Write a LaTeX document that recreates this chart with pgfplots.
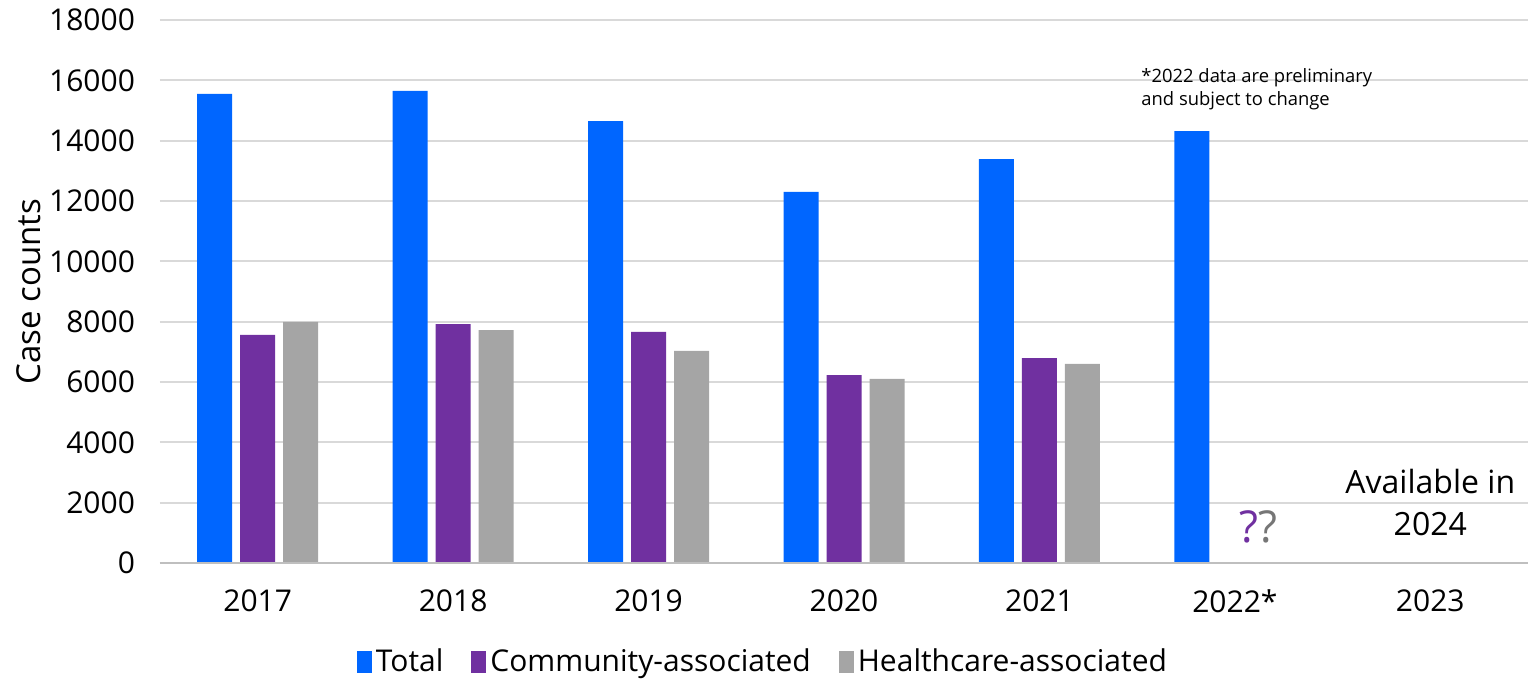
\documentclass[border=0pt]{standalone}
\usepackage{fontspec}
\setmainfont{Open Sans}
\usepackage{pgfplots}
\pgfplotsset{compat=1.18}
\definecolor{cTotal}{HTML}{0066FF}
\definecolor{cComm}{HTML}{7030A0}
\definecolor{cHC}{HTML}{A5A5A5}
\definecolor{cGrid}{HTML}{D9D9D9}
\definecolor{cAxis}{HTML}{BFBFBF}
\definecolor{cQ}{HTML}{767676}
\begin{document}
\begin{tikzpicture}
\useasboundingbox (0,0) rectangle (764pt,340pt);
\begin{axis}[
  at={(80pt,58.5pt)}, anchor=south west,
  scale only axis, width=684pt, height=271.5pt,
  ybar=4pt, bar width=17.5pt,
  xmin=-0.5, xmax=6.5, ymin=0, ymax=18000,
  xtick={0,1,2,3,4,5,6},
  xticklabels={2017,2018,2019,2020,2021,2022*,2023},
  ytick={0,2000,...,18000},
  /pgf/number format/assume math mode=true,
  /pgf/number format/1000 sep={},
  scaled y ticks=false,
  tick style={draw=none},
  major tick length=0pt,
  ymajorgrids, grid style={cGrid, line width=0.9pt},
  axis line style={draw=none},
  axis x line*=bottom,
  ticklabel style={font=\fontsize{15}{18}\selectfont},
  yticklabel style={xshift=-9pt},
  xticklabel style={yshift=-10pt},
  ylabel={Case counts},
  ylabel style={font=\fontsize{16.5}{19}\selectfont, at={(axis description cs:-0.096,0.5)}, anchor=center},
  legend style={draw=none, at={(axis description cs:0.4415,-0.182)}, anchor=center,
    legend columns=3, font=\fontsize{15}{18}\selectfont,
    /tikz/every even column/.append style={column sep=12pt}},
  legend image code/.code={\fill[#1] (0pt,-5.5pt) rectangle (7.5pt,5.5pt);},
  clip=false,
]
\addplot[fill=cTotal, draw=none] coordinates {(0,15550) (1,15650) (2,14650) (3,12300) (4,13390) (5,14320)};
\addplot[fill=cComm, draw=none] coordinates {(0,7560) (1,7920) (2,7660) (3,6230) (4,6790)};
\addplot[fill=cHC, draw=none] coordinates {(0,7990) (1,7720) (2,7030) (3,6100) (4,6600)};
\legend{Total, Community-associated, Healthcare-associated}
\draw[cAxis, line width=1.2pt] (axis cs:-0.5,0) -- (axis cs:6.5,0);
\node[anchor=north west, align=left, font=\fontsize{9.2}{11.5}\selectfont, inner sep=0pt] at (axis cs:4.52,16400) {*2022 data are preliminary\\and subject to change};
\node[font=\fontsize{22}{24}\selectfont, inner sep=0pt] at (axis cs:5.12,1200) {\textcolor{cComm}{?}\textcolor{cQ}{?}};
\node[align=center, font=\fontsize{16}{21}\selectfont, inner sep=0pt] at (axis cs:6,2000) {Available in\\2024};
\end{axis}
\end{tikzpicture}
\end{document}
